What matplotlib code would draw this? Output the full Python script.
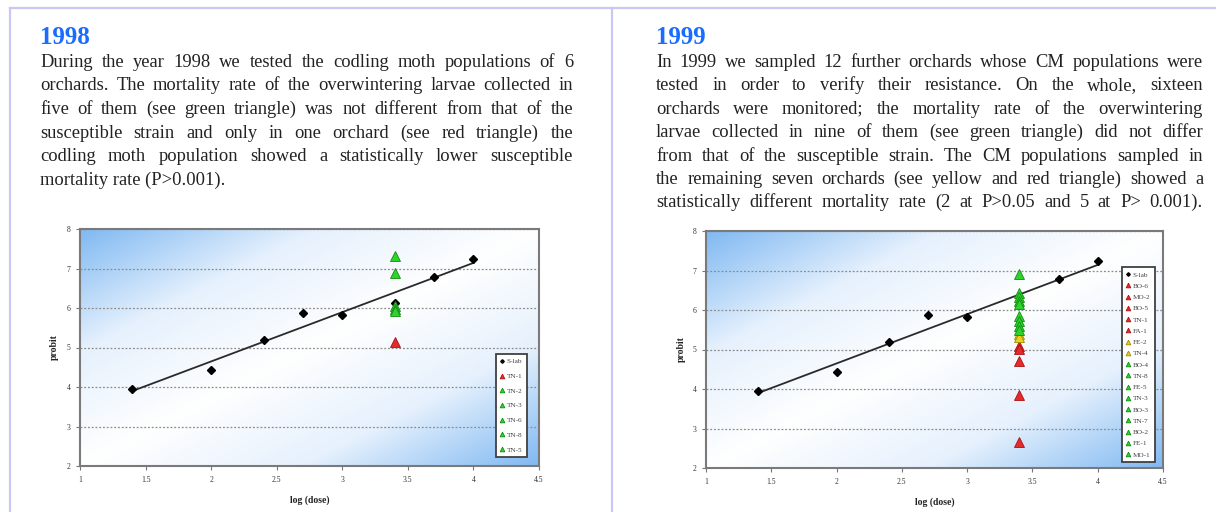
import numpy as np
import matplotlib.pyplot as plt
from matplotlib.lines import Line2D
from matplotlib.colors import LinearSegmentedColormap

W, H = 1216, 512
SERIF = "Liberation Serif"

# susceptible laboratory strain (dose-response line)
lab_logdose = [1.4, 2.0, 2.4, 2.7, 3.0, 3.4, 3.7, 4.0]
lab_probit = [3.95, 4.42, 5.20, 5.87, 5.83, 6.13, 6.78, 7.23]

# field populations, all tested at the discriminating dose
field_logdose = 3.4

orchards_1998 = ["TN-1", "TN-2", "TN-3", "TN-6", "TN-8", "TN-5"]
probit_1998 = [5.15, 7.32, 6.88, 6.05, 5.97, 5.92]
result_1998 = ["red", "green", "green", "green", "green", "green"]

orchards_1999 = ["BO-6", "MO-2", "BO-5", "TN-1", "FA-1", "FE-2", "TN-4", "BO-4",
                 "TN-8", "FE-5", "TN-3", "BO-3", "TN-7", "BO-2", "FE-1", "MO-1"]
probit_1999 = [5.08, 5.02, 4.72, 3.86, 2.66, 5.40, 5.32, 6.90,
               6.42, 6.32, 6.22, 6.14, 5.85, 5.72, 5.60, 5.50]
result_1999 = ["red"] * 5 + ["yellow"] * 2 + ["green"] * 9

xticks = [1, 1.5, 2, 2.5, 3, 3.5, 4, 4.5]
xticklabels = ["1", "1.5", "2", "2.5", "3", "3.5", "4", "4.5"]
yticks = [2, 3, 4, 5, 6, 7, 8]

text_1998 = [
    "During  the year 1998 we tested the codling moth populations of 6",
    "orchards. The mortality rate of the overwintering larvae collected in",
    "five of them (see green triangle) was  not different from that of the",
    "susceptible strain and only in one orchard (see red triangle) the",
    "codling moth population showed a statistically lower susceptible",
    "mortality rate (P>0.001).",
]
text_1999 = [
    "In 1999 we sampled 12 further orchards whose CM populations were",
    "tested in order to verify their resistance. On the whole, sixteen",
    "orchards were monitored; the mortality rate of the overwintering",
    "larvae collected in nine of them (see green triangle) did not differ",
    "from that of the susceptible strain. The CM populations sampled in",
    "the remaining seven orchards (see yellow and red triangle) showed a",
    "statistically different mortality rate  (2 at P>0.05 and 5 at P> 0.001).",
]

tri_colors = {
    "red": ("#e62a2a", "#a81212"),
    "yellow": ("#e8d21a", "#a08a00"),
    "green": ("#2ed42e", "#128a12"),
}

fig = plt.figure(figsize=(W / 100, H / 100), dpi=100)
fig.patch.set_facecolor("white")

# slide frame
frame = "#c8c8f2"
fig.add_artist(Line2D([10 / W, 1], [1 - 8 / H, 1 - 8 / H], color=frame, lw=1.6))
fig.add_artist(Line2D([10 / W, 10 / W], [0, 1 - 8 / H], color=frame, lw=1.6))
fig.add_artist(Line2D([612 / W, 612 / W], [0, 1 - 8 / H], color=frame, lw=1.6))


def paragraph(lines, x0, x1, y0, step, size=13.3, justify_last=False):
    r = fig.canvas.get_renderer()
    for i, line in enumerate(lines):
        yb = 1 - (y0 + i * step) / H
        if i == len(lines) - 1 and not justify_last:
            fig.text(x0 / W, yb, line, fontsize=size, family=SERIF,
                     color="#222222", va="baseline")
            continue
        words = line.split()
        arts = [fig.text(0, yb, w, fontsize=size, family=SERIF,
                         color="#222222", va="baseline") for w in words]
        widths = [a.get_window_extent(r).width for a in arts]
        gap = (x1 - x0 - sum(widths)) / (len(words) - 1)
        x = x0
        for a, w in zip(arts, widths):
            a.set_x(x / W)
            x += w + gap


bg_cmap = LinearSegmentedColormap.from_list("bg", ["#ffffff", "#e6f1fd", "#80b9f2"])
gx, gy = np.meshgrid(np.linspace(0, 1, 300), np.linspace(0, 1, 300))
shade = np.abs(gx - gy) ** 0.95


def dose_panel(ax, names, values, groups, leg_anchor, leg_spacing):
    ax.imshow(shade, extent=(0, 1, 0, 1), transform=ax.transAxes, origin="lower",
              cmap=bg_cmap, aspect="auto", zorder=0, interpolation="bicubic")
    ax.set_xlim(1, 4.5)
    ax.set_ylim(2, 8)
    ax.set_xticks(xticks)
    ax.set_xticklabels(xticklabels)
    ax.set_yticks(yticks)
    ax.tick_params(labelsize=5.5, labelcolor="#333333", length=3, width=0.8,
                   color="#777777", pad=4)
    for lab in ax.get_xticklabels() + ax.get_yticklabels():
        lab.set_family(SERIF)
    for s in ax.spines.values():
        s.set_color("#7a7a7a")
        s.set_linewidth(1.5)
    ax.yaxis.grid(True, ls=(0, (1.5, 1.5)), color="#8c8c8c", lw=0.9, zorder=1)
    ax.set_axisbelow(True)

    k, b = np.polyfit(lab_logdose, lab_probit, 1)
    xs = np.array([min(lab_logdose), max(lab_logdose)])
    ax.plot(xs, k * xs + b, color="#2a2a2a", lw=1.3, zorder=2)
    ax.plot(lab_logdose, lab_probit, "D", color="black", ms=4, ls="none",
            label="S-lab", zorder=3)
    for name, v, g in zip(names, values, groups):
        fc, ec = tri_colors[g]
        ax.plot([field_logdose], [v], "^", mfc=fc, mec=ec, mew=0.6, ms=7.5,
                ls="none", label=name, zorder=4)

    leg = ax.legend(loc="lower left", bbox_to_anchor=leg_anchor, fontsize=5.2,
                    markerscale=0.45, handlelength=0.6, handletextpad=0.3,
                    labelspacing=leg_spacing, borderpad=0.6, borderaxespad=0,
                    fancybox=False, framealpha=1, edgecolor="#404040")
    leg.get_frame().set_linewidth(1.3)
    for t in leg.get_texts():
        t.set_family(SERIF)
        t.set_color("#444444")

    ax.text(0.5, -34 / 237, "log (dose)", transform=ax.transAxes, ha="center",
            va="center", fontsize=7, fontweight="bold", family=SERIF, color="#222222")
    ax.text(-0.055, 0.5, "probit", transform=ax.transAxes, ha="center",
            va="center", rotation=90, fontsize=7, fontweight="bold", family=SERIF,
            color="#222222")


# 1998
fig.text(40 / W, 1 - 38 / H, "1998", fontsize=18, fontweight="bold", family=SERIF,
         color="#1a6cff", va="center")
paragraph(text_1998, 40, 573, 67, 23.5)
ax1 = fig.add_axes([80 / W, 1 - 466 / H, 459 / W, 237 / H])
dose_panel(ax1, orchards_1998, probit_1998, result_1998, (0.906, 0.038), 1.2)

# 1999
fig.text(656 / W, 1 - 38 / H, "1999", fontsize=18, fontweight="bold", family=SERIF,
         color="#1a6cff", va="center")
paragraph(text_1999, 656, 1203, 67, 23.4, justify_last=True)
ax2 = fig.add_axes([706 / W, 1 - 468 / H, 457 / W, 237 / H])
dose_panel(ax2, orchards_1999, probit_1999, result_1999, (0.91, 0.025), 0.72)

fig.savefig("out.png", dpi=100)
